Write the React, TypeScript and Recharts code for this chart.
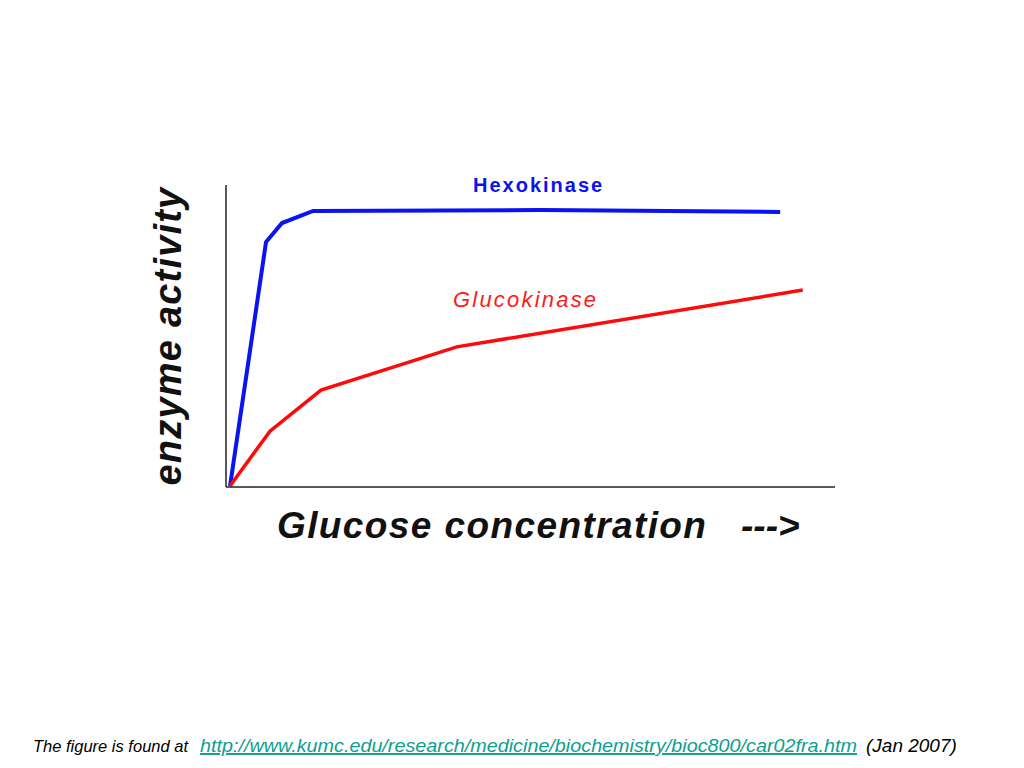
import { LineChart, Line, XAxis, YAxis } from "recharts"

// x/y in arbitrary units (0-100)
const hexoX = [0.66, 6.57, 9.2, 14.3, 51.6, 91.0]
const hexoY = [0.3, 81.1, 87.4, 91.4, 91.7, 91.1]
const glucoX = [0.66, 7.22, 15.6, 37.9, 94.7]
const glucoY = [0.3, 18.5, 32.1, 46.4, 65.2]

const hexoLabel = "Hexokinase"
const glucoLabel = "Glucokinase"
const xLabel = "Glucose concentration"
const yLabel = "enzyme activity"

const hexoData = hexoX.map((x, i) => ({ x, y: hexoY[i] }))
const glucoData = glucoX.map((x, i) => ({ x, y: glucoY[i] }))

const font = "'Liberation Sans', Arial, sans-serif"

export default function App() {
  return (
    <div style={{ position: "absolute", left: 0, top: 0, width: 1024, height: 768, background: "#fff" }}>
      <LineChart width={1024} height={768} margin={{ top: 185, right: 189, bottom: 280, left: 225 }}>
        <XAxis
          type="number"
          dataKey="x"
          domain={[0, 100]}
          tick={false}
          tickLine={false}
          height={1}
          axisLine={{ stroke: "#222", strokeWidth: 1.5 }}
          allowDuplicatedCategory={false}
        />
        <YAxis
          type="number"
          dataKey="y"
          domain={[0, 100]}
          tick={false}
          tickLine={false}
          width={1}
          axisLine={{ stroke: "#222", strokeWidth: 1.5 }}
        />
        <Line
          data={hexoData}
          dataKey="y"
          type="linear"
          stroke="#0a14f0"
          strokeWidth={4}
          dot={false}
          isAnimationActive={false}
        />
        <Line
          data={glucoData}
          dataKey="y"
          type="linear"
          stroke="#ff0a0a"
          strokeWidth={3.5}
          dot={false}
          isAnimationActive={false}
        />
      </LineChart>
      <svg width={1024} height={768} style={{ position: "absolute", left: 0, top: 0, pointerEvents: "none" }}>
        <text x={473} y={192} fontFamily={font} fontSize={20} fontWeight="bold" letterSpacing={2} fill="#0a14f0">
          {hexoLabel}
        </text>
        <text x={453} y={307} fontFamily={font} fontSize={22} fontStyle="italic" letterSpacing={2.2} fill="#ff1a1a">
          {glucoLabel}
        </text>
        <text x={277} y={538} fontFamily={font} fontSize={37} fontWeight="bold" fontStyle="italic" letterSpacing={1.4} fill="#111">
          {xLabel}
        </text>
        <text x={741} y={538} fontFamily={font} fontSize={37} fontWeight="bold" fontStyle="italic" fill="#111">
          {"--->"}
        </text>
        <text
          x={181}
          y={336}
          transform="rotate(-90 181 336)"
          textAnchor="middle"
          fontFamily={font}
          fontSize={38}
          fontWeight="bold"
          fontStyle="italic"
          letterSpacing={1.2}
          fill="#111"
        >
          {yLabel}
        </text>
        <text x={33} y={752} fontFamily={font} fontSize={16.5} fontStyle="italic" fill="#000">
          The figure is found at
        </text>
        <text
          x={200}
          y={752}
          fontFamily={font}
          fontSize={19}
          fontStyle="italic"
          fill="#0f9e8e"
          textDecoration="underline"
          textLength={657}
          lengthAdjust="spacingAndGlyphs"
        >
          http://www.kumc.edu/research/medicine/biochemistry/bioc800/car02fra.htm
        </text>
        <text x={866} y={752} fontFamily={font} fontSize={19} fontStyle="italic" fill="#000">
          (Jan 2007)
        </text>
      </svg>
    </div>
  )
}
